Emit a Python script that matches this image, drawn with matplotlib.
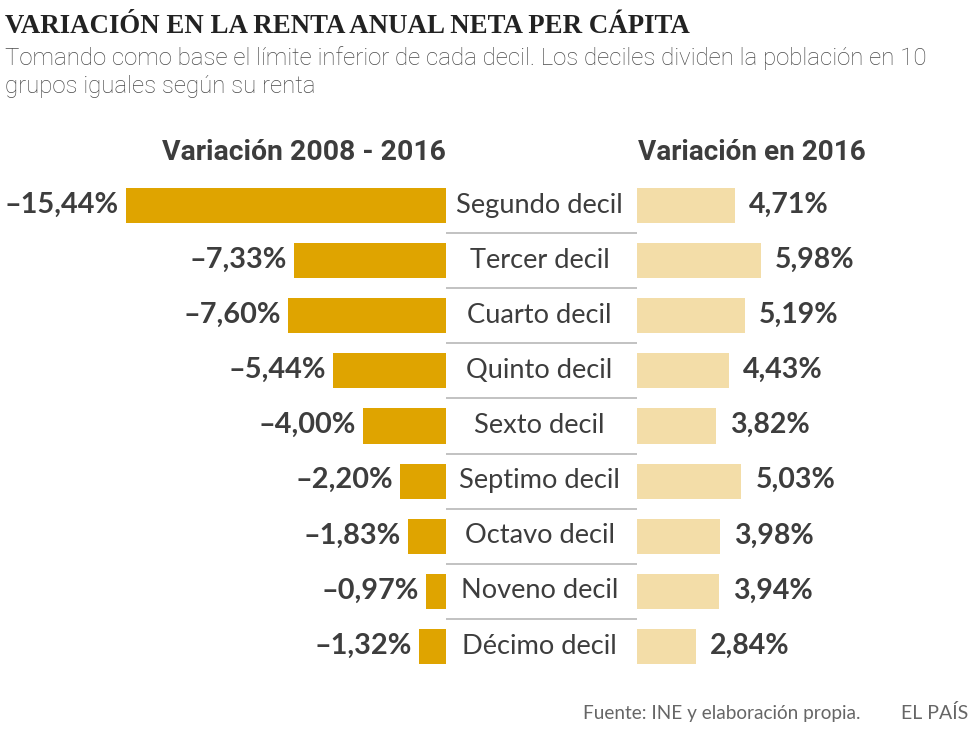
import matplotlib
matplotlib.use("Agg")
import matplotlib.pyplot as plt

# datos
deciles = ["Segundo decil", "Tercer decil", "Cuarto decil", "Quinto decil",
           "Sexto decil", "Septimo decil", "Octavo decil", "Noveno decil",
           "Décimo decil"]
var_2008_2016 = [-15.44, -7.33, -7.60, -5.44, -4.00, -2.20, -1.83, -0.97, -1.32]
var_2016 = [4.71, 5.98, 5.19, 4.43, 3.82, 5.03, 3.98, 3.94, 2.84]

GOLD = "#DFA400"
BEIGE = "#F3DDA8"
DARK = "#3D3D3D"
GREY = "#4A4A4A"

W, H = 980, 738
PX = 20.75  # pixels per percentage point


def fx(px):
    return px / W


def fy(py):
    return 1 - py / H


def fmt(v):
    s = "%.2f" % abs(v)
    s = s.replace(".", ",") + "%"
    if v < 0:
        s = "\u2013" + s
    return s


fig = plt.figure(figsize=(9.8, 7.38), dpi=100)
fig.patch.set_facecolor("white")

top_px, bot_px = 178, 674
ax_b = fy(bot_px)
ax_h = (bot_px - top_px) / H

axL = fig.add_axes([0, ax_b, fx(446), ax_h])
axC = fig.add_axes([fx(446), ax_b, fx(637 - 446), ax_h])
axR = fig.add_axes([fx(637), ax_b, fx(W - 637), ax_h])

rows = list(range(len(deciles)))
bar_h = 35 / 55.1

axL.barh(rows, var_2008_2016, height=bar_h, color=GOLD)
axL.set_xlim(-446 / PX, 0)
axR.barh(rows, var_2016, height=bar_h, color=BEIGE)
axR.set_xlim(0, (W - 637) / PX)

for ax in (axL, axC, axR):
    ax.set_ylim(len(deciles) - 0.5, -0.5)
    ax.axis("off")
axC.set_xlim(0, 1)

base = 0.13
for i, v in enumerate(var_2008_2016):
    axL.text(v - 7 / PX, i + base, fmt(v), ha="right", va="baseline",
             fontsize=20.8, fontweight="bold", family="Lato", color=DARK)
for i, v in enumerate(var_2016):
    axR.text(v + 14 / PX, i + base, fmt(v), ha="left", va="baseline",
             fontsize=20.5, fontweight="bold", family="Lato", color=DARK)
for i, name in enumerate(deciles):
    axC.text(0.49, i + base, name, ha="center", va="baseline",
             fontsize=19.6, family="Lato", color=DARK)
for i in range(len(deciles) - 1):
    axC.axhline(i + 0.5, color="#BDBDBD", lw=1.3)

# cabeceras
fig.text(fx(304), fy(160), "Variación 2008 - 2016", ha="center", va="baseline",
         fontsize=20.4, fontweight="bold", family="Roboto", color=DARK)
fig.text(fx(752), fy(160), "Variación en 2016", ha="center", va="baseline",
         fontsize=20.1, fontweight="bold", family="Roboto", color=DARK)

# titulo
fig.text(fx(5), fy(33), "VARIACIÓN EN LA RENTA ANUAL NETA PER CÁPITA",
         ha="left", va="baseline", fontsize=19.4, fontweight="bold",
         family="Liberation Serif", color="#222222")
fig.text(fx(5), fy(65), "Tomando como base el límite inferior de cada decil. "
         "Los deciles dividen la población en 10", ha="left", va="baseline",
         fontsize=17.3, family="Roboto", fontweight="light", color=GREY)
fig.text(fx(5), fy(93), "grupos iguales según su renta", ha="left",
         va="baseline", fontsize=17.3, family="Roboto", fontweight="light",
         color=GREY)

# pie
fig.text(fx(860), fy(719), "Fuente: INE y elaboración propia.", ha="right",
         va="baseline", fontsize=13.7, family="Lato", color="#666666")
fig.text(fx(968), fy(719), "EL PAÍS", ha="right", va="baseline",
         fontsize=14, family="Lato", color="#666666")

fig.savefig("out.png", dpi=100, facecolor="white")
